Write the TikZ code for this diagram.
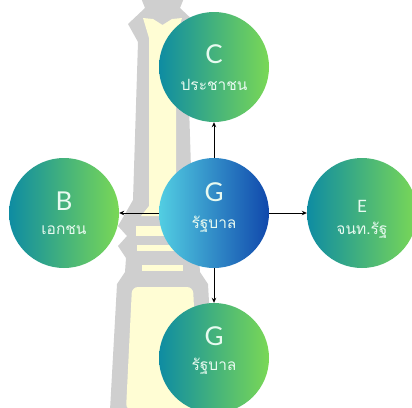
\documentclass[tikz,border=0pt]{standalone}
\usepackage{fontspec}
\newfontfamily\thaifont[Script=Thai]{Loma}
\newfontfamily\latinfont{Lato}
\usetikzlibrary{arrows.meta}
\definecolor{pillargrey}{RGB}{207,207,207}
\definecolor{pillarcream}{RGB}{255,253,212}
\definecolor{tealL}{RGB}{14,140,162}
\definecolor{greenR}{RGB}{122,216,86}
\definecolor{cyanL}{RGB}{82,206,226}
\definecolor{blueR}{RGB}{16,72,172}
\definecolor{labelwhite}{RGB}{232,250,240}
\tikzset{
  bubble/.style={circle, minimum size=110pt, inner sep=0pt, shading=axis,
    left color=tealL, right color=greenR, shading angle=90},
  hubbubble/.style={bubble, left color=cyanL, right color=blueR},
  letter/.style={text=labelwhite, font=\latinfont\fontsize{26}{26}\selectfont, inner sep=0pt},
  smallletter/.style={letter, font=\latinfont\fontsize{17}{17}\selectfont},
  thaitext/.style={text=labelwhite, font=\thaifont\fontsize{15.5}{15.5}\selectfont, inner sep=0pt},
  link/.style={draw=black, line width=0.8pt, -{Stealth[length=5pt,width=4.5pt]}}
}
\begin{document}
\begin{tikzpicture}[x=1pt,y=-1pt]
\useasboundingbox (0,0) rectangle (412,407);
% decorative pillar: grey silhouette
\fill[pillargrey] (141,-2) -- (145,8) -- (128,24) -- (138,42) -- (133,200)
  -- (125,214) -- (118,226) -- (127,236) -- (118,246) -- (126,258) -- (125,272)
  -- (117,284) -- (110,410) -- (215,410) -- (208,284) -- (200,272) -- (199,258)
  -- (207,246) -- (198,236) -- (207,226) -- (200,214) -- (192,200) -- (187,42)
  -- (197,24) -- (180,8) -- (184,-2) -- cycle;
% cream inlay: shaft, bands and base
\fill[pillarcream] (143,18) -- (153,19) -- (162.5,25) -- (172,19) -- (182,18)
  -- (176,38) -- (176,206) -- (184,216) -- (141,216) -- (149,206) -- (149,38) -- cycle;
\fill[pillarcream] (136,226) rectangle (189,236);
\fill[pillarcream] (137,245) rectangle (188,251);
\fill[pillarcream] (142,265) rectangle (183,271);
\fill[pillarcream, rounded corners=6pt] (126,410) -- (132,287) -- (193,287) -- (199,410) -- cycle;

% bubbles
\node[hubbubble] (g) at (214,213) {};
\node[bubble] (c) at (214,67) {};
\node[bubble] (b) at (64,213) {};
\node[bubble] (e) at (362,213) {};
\node[bubble] (g2) at (214,358) {};

% labels
\node[letter] (gL) at (214,192) {G};
\node[thaitext] (gT) at (214,224) {รัฐบาล};
\node[letter] (cL) at (214,54) {C};
\node[thaitext] (cT) at (214,85) {ประชาชน};
\node[letter] (bL) at (64,201) {B};
\node[thaitext] (bT) at (64,230) {เอกชน};
\node[smallletter] (eL) at (362,206) {E};
\node[thaitext] (eT) at (362,230) {จนท.รัฐ};
\node[letter] (g2L) at (214,336) {G};
\node[thaitext] (g2T) at (214,366) {รัฐบาล};

% links from the hub
\draw[link] (g) -- (c);
\draw[link] (g) -- (b);
\draw[link] (g) -- (e);
\draw[link] (g) -- (g2);
\end{tikzpicture}
\end{document}
